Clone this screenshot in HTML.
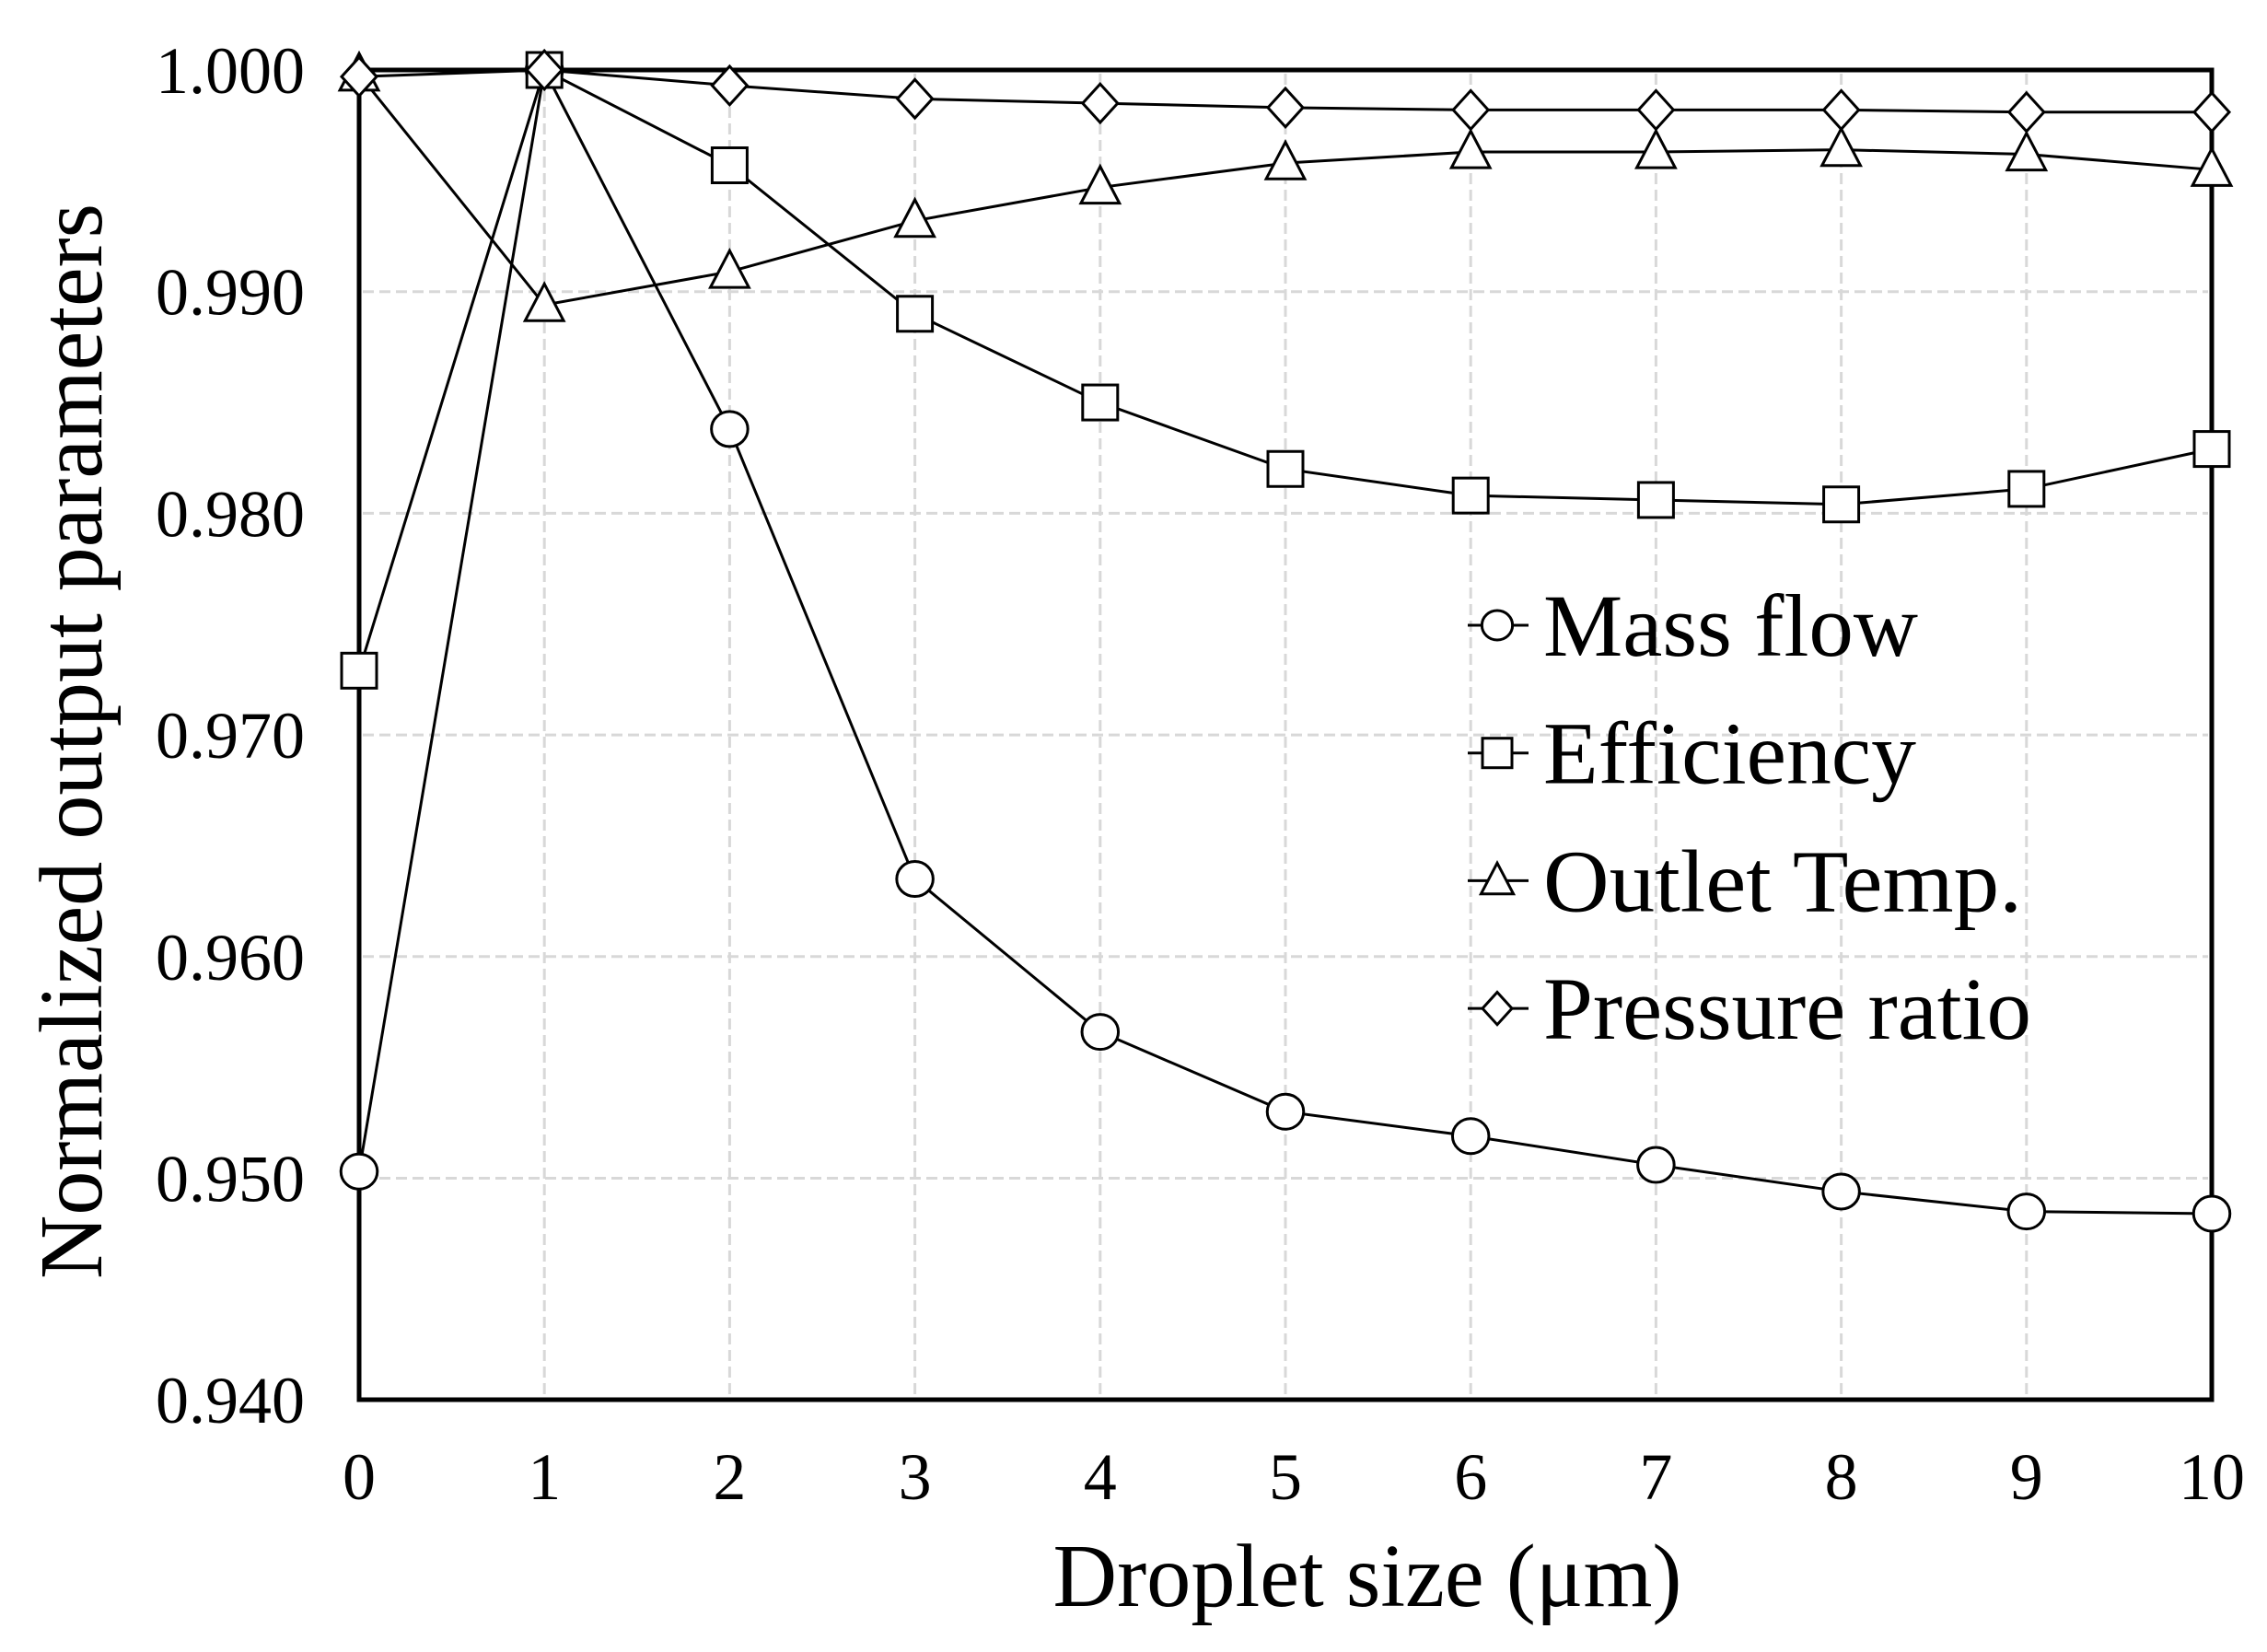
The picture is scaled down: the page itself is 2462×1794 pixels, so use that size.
<!DOCTYPE html>
<html><head><meta charset="utf-8"><style>
html,body{margin:0;padding:0;background:#fff;}
svg{display:block;}
text{font-family:"Liberation Serif",serif;fill:#000;}
</style></head><body>
<svg id="s" width="2462" height="1794" viewBox="0 0 2462 1794" xmlns="http://www.w3.org/2000/svg">
<rect width="2462" height="1794" fill="#fff"/>
<g id="grid" stroke="#d8d8d8" stroke-width="3" stroke-dasharray="12,6" fill="none"></g>
<g id="series" fill="none" stroke="#000" stroke-width="3"></g>
<rect x="390" y="76" width="2012" height="1444" fill="none" stroke="#000" stroke-width="5"/>
<g id="mk" stroke="#000" stroke-width="3" fill="#fff"></g>
<g id="labels" font-size="72"></g>
<text x="1485" y="1744" font-size="97" text-anchor="middle" textLength="683" lengthAdjust="spacingAndGlyphs">Droplet size (μm)</text>
<text transform="translate(110,805) rotate(-90)" font-size="97" text-anchor="middle" textLength="1168" lengthAdjust="spacingAndGlyphs">Normalized output parameters</text>
<g id="leg" stroke="#000" stroke-width="3" fill="#fff"></g>
</svg>
<script>
const NS="http://www.w3.org/2000/svg";
const X=i=>390+i*201.2, Y=v=>76+(1-v)/0.01*240.7;
function el(p,t,a,txt){const e=document.createElementNS(NS,t);for(const k in a)e.setAttribute(k,a[k]);if(txt!==undefined)e.textContent=txt;document.getElementById(p).appendChild(e);return e;}
for(let i=1;i<10;i++)el('grid','line',{x1:X(i),y1:80,x2:X(i),y2:1516});
for(let j=1;j<6;j++)el('grid','line',{x1:394,y1:Y(1-j*0.01),x2:2398,y2:Y(1-j*0.01)});
for(let i=0;i<=10;i++)el('labels','text',{x:X(i),y:1628,'text-anchor':'middle'},String(i));
const yl=['1.000','0.990','0.980','0.970','0.960','0.950','0.940'];
yl.forEach((t,j)=>el('labels','text',{x:331,y:Y(1-j*0.01)+25,'text-anchor':'end'},t));
const data={
c:[0.9503,1.000,0.9838,0.9635,0.9566,0.9530,0.9519,0.9506,0.9494,0.9485,0.9484],
s:[0.9729,1.000,0.9957,0.9890,0.9850,0.9820,0.9808,0.9806,0.9804,0.9811,0.9829],
t:[0.9998,0.9894,0.9909,0.9932,0.9947,0.9958,0.9963,0.9963,0.9964,0.9962,0.9955],
d:[0.9997,1.000,0.9993,0.9987,0.9985,0.9983,0.9982,0.9982,0.9982,0.9981,0.9981]};
function marker(g,k,x,y,sz){
 if(k==='c')el(g,'ellipse',{cx:x,cy:y,rx:sz*0.52,ry:sz*0.5});
 else if(k==='s')el(g,'rect',{x:x-sz/2,y:y-sz/2,width:sz,height:sz});
 else if(k==='t')el(g,'polygon',{points:`${x},${y-sz*0.6} ${x-sz*0.55},${y+sz*0.45} ${x+sz*0.55},${y+sz*0.45}`});
 else el(g,'polygon',{points:`${x},${y-sz*0.55} ${x+sz*0.5},${y} ${x},${y+sz*0.55} ${x-sz*0.5},${y}`});
}
for(const k in data){
 el('series','polyline',{points:data[k].map((v,i)=>X(i)+','+Y(v)).join(' ')});
 data[k].forEach((v,i)=>marker('mk',k,X(i),Y(v),38));
}
const names={c:'Mass flow',s:'Efficiency',t:'Outlet Temp.',d:'Pressure ratio'};
const lens={c:407,s:405,t:520,d:530};
['c','s','t','d'].forEach((k,j)=>{
 const y=679+j*138.7;
 el('leg','line',{x1:1594,y1:y,x2:1660,y2:y});
 marker('leg',k,1626,y,32);
 el('leg','text',{x:1676,y:y+33,'font-size':96,stroke:'none',fill:'#000',textLength:lens[k],lengthAdjust:'spacingAndGlyphs'},names[k]);
});
</script>
</body></html>
